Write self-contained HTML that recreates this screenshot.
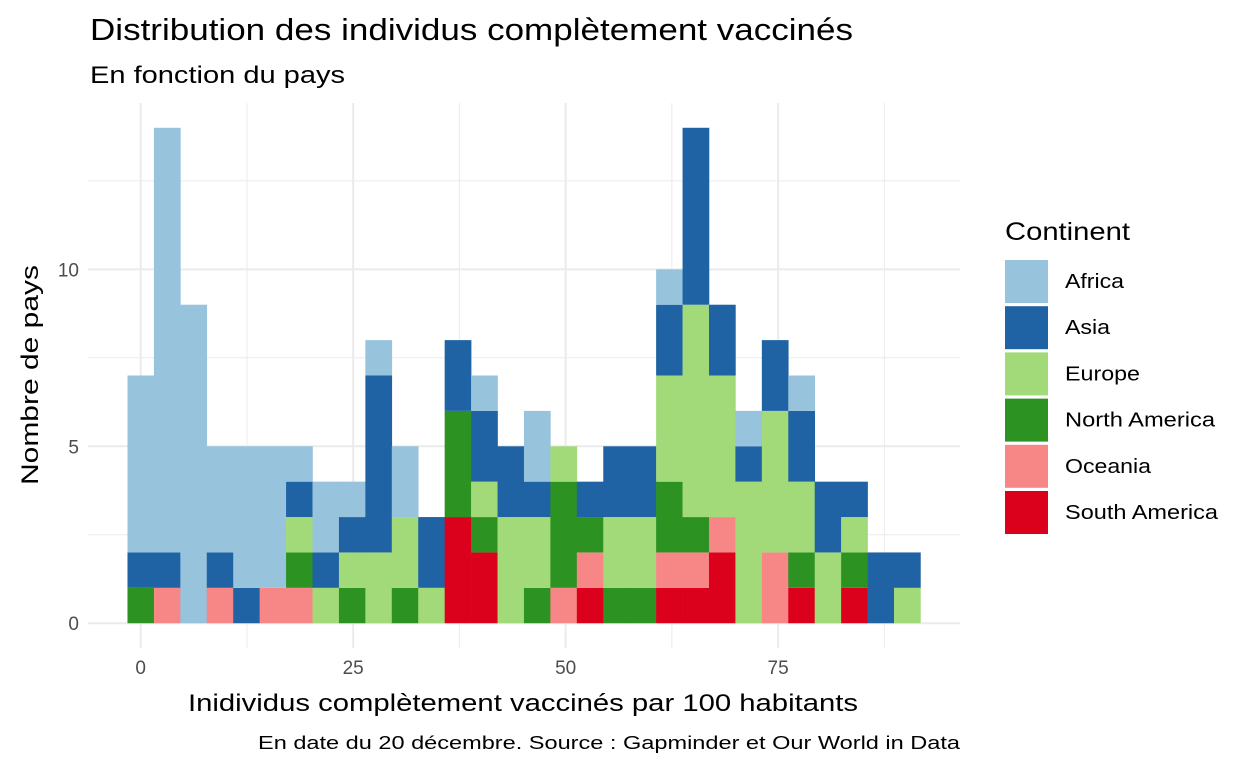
<!DOCTYPE html>
<html><head><meta charset="utf-8"><style>
body{margin:0;background:#fff;font-family:"Liberation Sans",Arial,sans-serif}
svg text{font-family:"Liberation Sans",Arial,sans-serif}
</style></head><body>
<svg id="chart" width="1248" height="768" xmlns="http://www.w3.org/2000/svg">
<rect width="1248" height="768" fill="#fff"/>
<text x="90" y="40" font-size="31" textLength="763" lengthAdjust="spacingAndGlyphs" fill="#000">Distribution des individus complètement vaccinés</text>
<text x="90" y="83" font-size="24" textLength="255" lengthAdjust="spacingAndGlyphs" fill="#000">En fonction du pays</text>
<g id="grid"></g>
<g id="bars"></g>
<g id="ticks"></g>
<text x="188" y="711" font-size="24" textLength="670" lengthAdjust="spacingAndGlyphs" fill="#000">Inidividus complètement vaccinés par 100 habitants</text>
<text transform="translate(38,375) rotate(-90)" font-size="24" textLength="220" lengthAdjust="spacingAndGlyphs" text-anchor="middle" fill="#000">Nombre de pays</text>
<text x="258" y="749" font-size="18" textLength="702" lengthAdjust="spacingAndGlyphs" fill="#000">En date du 20 décembre. Source : Gapminder et Our World in Data</text>
<g id="legend">
<text x="1005" y="240" font-size="25" textLength="125" lengthAdjust="spacingAndGlyphs" fill="#000">Continent</text>
</g>
</svg>
<script>
const continents = ["Africa","Asia","Europe","North America","Oceania","South America"];
const colors = ["#97c3dc","#1f63a5","#a3da79","#2c9222","#f78787","#db011c"];
const labelWidths = [59,45,75,150,86,153];
const binWidth = 3.11;
const africa   = [5,12,9,3,4,4,1,2,1,1,2,0,0,1,0,2,0,0,0,0,1,0,0,1,0,1,0,0,0,0];
const asia     = [1,1,0,1,1,0,1,1,1,5,0,2,2,2,2,1,0,1,2,2,2,5,2,1,2,2,2,1,2,1];
const europe   = [0,0,0,0,0,0,1,1,1,2,2,1,0,1,3,2,1,0,2,2,3,6,4,4,4,2,2,1,0,1];
const northAm  = [1,0,0,0,0,0,1,0,1,0,1,0,3,1,0,1,3,1,1,1,2,1,0,0,0,1,0,1,0,0];
const oceania  = [0,1,0,1,0,1,1,0,0,0,0,0,0,0,0,0,1,1,0,0,1,1,1,0,2,0,0,0,0,0];
const southAm  = [0,0,0,0,0,0,0,0,0,0,0,0,3,2,0,0,0,1,0,0,1,1,2,0,0,1,0,1,0,0];
const xTicks = [0,25,50,75];
const yTicks = [0,5,10];

const NS="http://www.w3.org/2000/svg";
const px0=88, px1=960, py0=648, py1=103;
const xMin=-6.2, xMax=96.4, yMin=-0.7, yMax=14.7;
const X=v=>px0+(v-xMin)/(xMax-xMin)*(px1-px0);
const Y=v=>py0-(v-yMin)/(yMax-yMin)*(py0-py1);
function mk(tag,attrs,parent){const e=document.createElementNS(NS,tag);for(const k in attrs)e.setAttribute(k,attrs[k]);parent.appendChild(e);return e;}
const grid=document.getElementById('grid');
for(let i=0;i<xTicks.length;i++){
  const l=mk('line',{x1:X(xTicks[i]),x2:X(xTicks[i]),y1:py1,y2:py0,stroke:'#ebebeb','stroke-width':2},grid);
  
  
  const m=mk('line',{x1:X(xTicks[i]+12.5),x2:X(xTicks[i]+12.5),y1:py1,y2:py0,stroke:'#ebebeb','stroke-width':1},grid);
  
  
}
for(let i=0;i<yTicks.length;i++){
  const l=mk('line',{x1:px0,x2:px1,y1:Y(yTicks[i]),y2:Y(yTicks[i]),stroke:'#ebebeb','stroke-width':2},grid);
  
  
  const m=mk('line',{x1:px0,x2:px1,y1:Y(yTicks[i]+2.5),y2:Y(yTicks[i]+2.5),stroke:'#ebebeb','stroke-width':1},grid);
  
  
}
const ticks=document.getElementById('ticks');
xTicks.forEach(v=>{const t=mk('text',{x:X(v),y:674,'font-size':19,'text-anchor':'middle',fill:'#4d4d4d'},ticks);t.textContent=v;
  
  });
yTicks.forEach(v=>{const t=mk('text',{x:79,y:Y(v)+7,'font-size':19,'text-anchor':'end',fill:'#4d4d4d'},ticks);t.textContent=v;
  
  });
const series=[africa,asia,europe,northAm,oceania,southAm];
const bars=document.getElementById('bars');
for(let b=0;b<africa.length;b++){
  let base=0;
  for(let s=series.length-1;s>=0;s--){
    const v=series[s][b]; if(!v) continue;
    const c=b*binWidth;
    const r=mk('rect',{x:X(c-binWidth/2),y:Y(base+v),width:X(c+binWidth/2)-X(c-binWidth/2)+0.3,height:Y(base)-Y(base+v),fill:colors[s]},bars);
    
    
    base+=v;
  }
}
const legend=document.getElementById('legend');
continents.forEach((c,i)=>{
  const y=260+i*46.2;
  const r=mk('rect',{x:1005,y:y,width:43,height:43,fill:colors[i]},legend);
  
  
  const t=mk('text',{x:1065,y:y+28,'font-size':20,textLength:labelWidths[i],lengthAdjust:'spacingAndGlyphs',fill:'#000'},legend);t.textContent=c;
  
  
});
</script>
</body></html>
